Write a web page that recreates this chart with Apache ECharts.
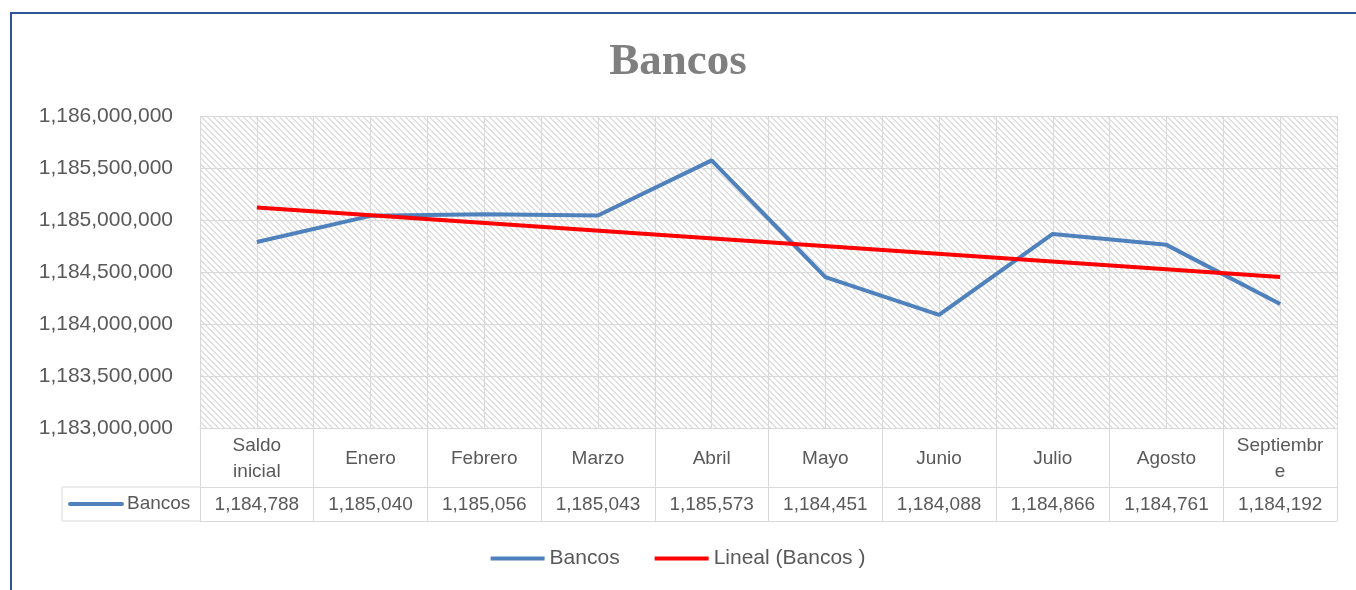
<!DOCTYPE html>
<html>
<head>
<meta charset="utf-8">
<title>Bancos</title>
<script src="https://cdn.jsdelivr.net/npm/echarts@6/dist/echarts.min.js"></script>
<style>
  html, body { margin: 0; padding: 0; background: #fff; }
  #chart { width: 1356px; height: 590px; }
</style>
</head>
<body>
<div id="chart"></div>
<script>
// datos
const categories = ['Saldo\ninicial', 'Enero', 'Febrero', 'Marzo', 'Abril', 'Mayo', 'Junio', 'Julio', 'Agosto', 'Septiembr\ne'];
const bancos = [1184788000, 1185040000, 1185056000, 1185043000, 1185573000, 1184451000, 1184088000, 1184866000, 1184761000, 1184192000];
// linea de tendencia (inicio y fin)
const tendencia = [[0, 1185120000], [9, 1184452000]];
const yTicks = { min: 1183000000, max: 1186000000, step: 500000 };

const grey = '#595959';
const lineGrey = '#d9d9d9';
const azul = '#4f81bd';

// trama diagonal del fondo
const pat = document.createElement('canvas');
pat.width = 6; pat.height = 6;
const pctx = pat.getContext('2d');
pctx.fillStyle = '#ffffff';
pctx.fillRect(0, 0, 6, 6);
pctx.fillStyle = '#e0e0e0';
for (let i = 0; i < 6; i++) {
  pctx.fillRect(i, i, 1, 1);
  pctx.fillRect((i + 1) % 6, i, 1, 1);
}

const fmt = v => Math.round(v).toLocaleString('en-US');
// la tabla muestra miles
const fmtMiles = v => Math.round(v / 1000).toLocaleString('en-US');

const chart = echarts.init(document.getElementById('chart'));

const option = {
  animation: false,
  title: {
    text: 'Bancos',
    left: 'center',
    top: 35,
    textStyle: { fontFamily: 'Liberation Serif', fontWeight: 'bold', fontSize: 45, color: '#7f7f7f' }
  },
  legend: {
    bottom: 16,
    left: 'center',
    icon: 'rect',
    itemWidth: 54,
    itemHeight: 4,
    itemGap: 35,
    textStyle: { fontFamily: 'Liberation Sans', fontSize: 21, color: grey },
    data: ['Bancos', 'Lineal (Bancos )']
  },
  grid: {
    left: 200, right: 19, top: 116, bottom: 162,
    show: true,
    borderWidth: 0,
    backgroundColor: { image: pat, repeat: 'repeat' }
  },
  xAxis: [
    {
      type: 'category',
      data: categories,
      position: 'bottom',
      axisLine: { lineStyle: { color: lineGrey, width: 1 } },
      axisTick: { show: true, length: 93, interval: 0, lineStyle: { color: lineGrey, width: 1 } },
      axisLabel: {
        interval: 0, margin: 31, verticalAlign: 'middle', lineHeight: 26,
        fontFamily: 'Liberation Sans', fontSize: 19, color: grey
      },
      splitLine: { show: false }
    },
    {
      type: 'category',
      data: bancos.map(fmtMiles),
      position: 'bottom',
      offset: 59,
      axisLine: { lineStyle: { color: lineGrey, width: 1 } },
      axisTick: { show: false },
      axisLabel: {
        interval: 0, margin: 18, verticalAlign: 'middle',
        fontFamily: 'Liberation Sans', fontSize: 19, color: grey
      }
    },
    {
      type: 'category',
      data: categories,
      position: 'bottom',
      offset: 93,
      axisLine: { lineStyle: { color: lineGrey, width: 1 } },
      axisTick: { show: false },
      axisLabel: { show: false }
    },
    {
      type: 'value',
      min: -0.5,
      max: 9.5,
      interval: 0.5,
      position: 'top',
      axisLine: { show: false },
      axisTick: { show: false },
      axisLabel: { show: false },
      splitLine: { show: true, lineStyle: { color: lineGrey, width: 1 } }
    }
  ],
  yAxis: {
    type: 'value',
    min: yTicks.min,
    max: yTicks.max,
    interval: yTicks.step,
    axisLine: { show: false },
    axisTick: { show: false },
    axisLabel: {
      margin: 27, formatter: fmt,
      fontFamily: 'Liberation Sans', fontSize: 21, color: grey
    },
    splitLine: { show: true, lineStyle: { color: lineGrey, width: 1 } }
  },
  series: [
    {
      name: 'Bancos',
      type: 'line',
      xAxisIndex: 0,
      data: bancos,
      symbol: 'none',
      itemStyle: { color: azul },
      lineStyle: { color: azul, width: 4 },
      z: 3
    },
    {
      name: 'Lineal (Bancos )',
      type: 'line',
      xAxisIndex: 0,
      data: tendencia,
      symbol: 'none',
      itemStyle: { color: '#ff0000' },
      lineStyle: { color: '#ff0000', width: 4 },
      z: 4
    }
  ],
  graphic: [
    // marco exterior
    { type: 'line', shape: { x1: 10, y1: 13, x2: 1356, y2: 13 }, style: { stroke: '#2f5597', lineWidth: 2 } },
    { type: 'line', shape: { x1: 11, y1: 13, x2: 11, y2: 590 }, style: { stroke: '#2f5597', lineWidth: 2 } },
    // celda de la clave en la tabla de datos
    { type: 'line', shape: { x1: 62, y1: 487, x2: 200, y2: 487 }, style: { stroke: lineGrey, lineWidth: 1 } },
    { type: 'line', shape: { x1: 62, y1: 521, x2: 200, y2: 521 }, style: { stroke: lineGrey, lineWidth: 1 } },
    { type: 'line', shape: { x1: 62, y1: 487, x2: 62, y2: 521 }, style: { stroke: lineGrey, lineWidth: 1 } },
    { type: 'line', shape: { x1: 70, y1: 504, x2: 122, y2: 504 }, style: { stroke: azul, lineWidth: 4, lineCap: 'round' } },
    { type: 'text', x: 127, y: 504, style: { text: 'Bancos', fontFamily: 'Liberation Sans', fontSize: 19, fill: grey, verticalAlign: 'middle' } }
  ]
};

chart.setOption(option);
</script>
</body>
</html>
